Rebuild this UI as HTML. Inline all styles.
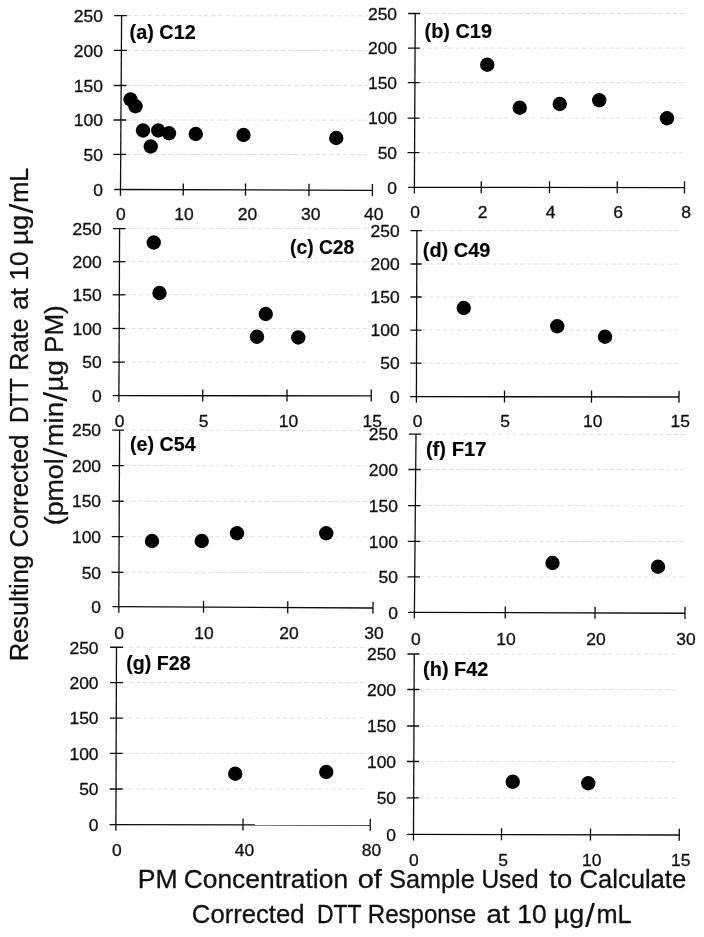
<!DOCTYPE html>
<html><head><meta charset="utf-8"><title>Corrected DTT Response</title>
<style>
html,body{margin:0;padding:0;background:#fff;}
svg{display:block;font-family:"Liberation Sans",sans-serif;}
</style></head><body>
<svg width="704" height="937" viewBox="0 0 704 937">
<rect width="704" height="937" fill="#fff"/>
<g stroke="#dcdcdc" stroke-width="0.9" stroke-dasharray="4.4 2.6" fill="none"><line x1="126.12" y1="154.40" x2="367.50" y2="154.64"/><line x1="126.34" y1="120.00" x2="367.50" y2="120.23"/><line x1="126.56" y1="85.50" x2="367.50" y2="85.73"/><line x1="126.78" y1="50.40" x2="367.50" y2="50.63"/><line x1="127.00" y1="15.60" x2="367.50" y2="15.83"/><line x1="419.97" y1="152.70" x2="684.75" y2="152.76"/><line x1="420.14" y1="118.10" x2="684.75" y2="118.16"/><line x1="420.31" y1="82.60" x2="684.75" y2="82.66"/><line x1="420.48" y1="48.10" x2="684.75" y2="48.16"/><line x1="420.65" y1="13.50" x2="684.75" y2="13.56"/><line x1="124.44" y1="362.10" x2="370.00" y2="362.13"/><line x1="124.58" y1="328.50" x2="370.00" y2="328.53"/><line x1="124.72" y1="294.80" x2="370.00" y2="294.83"/><line x1="124.86" y1="261.70" x2="370.00" y2="261.73"/><line x1="125.00" y1="228.60" x2="370.00" y2="228.63"/><line x1="421.90" y1="363.20" x2="679.00" y2="363.32"/><line x1="422.00" y1="330.10" x2="679.00" y2="330.22"/><line x1="422.10" y1="297.00" x2="679.00" y2="297.12"/><line x1="422.20" y1="264.00" x2="679.00" y2="264.12"/><line x1="422.30" y1="230.60" x2="679.00" y2="230.72"/><line x1="124.36" y1="572.30" x2="371.00" y2="572.72"/><line x1="124.52" y1="536.60" x2="371.00" y2="537.02"/><line x1="124.68" y1="501.20" x2="371.00" y2="501.62"/><line x1="124.84" y1="465.60" x2="371.00" y2="466.02"/><line x1="125.00" y1="430.10" x2="371.00" y2="430.52"/><line x1="420.12" y1="576.80" x2="685.00" y2="577.05"/><line x1="420.44" y1="541.30" x2="685.00" y2="541.55"/><line x1="420.76" y1="505.60" x2="685.00" y2="505.85"/><line x1="421.08" y1="469.50" x2="685.00" y2="469.75"/><line x1="421.40" y1="434.10" x2="685.00" y2="434.35"/><line x1="121.42" y1="789.00" x2="367.00" y2="789.12"/><line x1="121.54" y1="753.30" x2="367.00" y2="753.42"/><line x1="121.66" y1="718.10" x2="367.00" y2="718.22"/><line x1="121.78" y1="682.60" x2="367.00" y2="682.72"/><line x1="121.90" y1="647.25" x2="367.00" y2="647.37"/><line x1="419.05" y1="797.90" x2="679.00" y2="798.11"/><line x1="419.20" y1="761.50" x2="679.00" y2="761.71"/><line x1="419.35" y1="726.00" x2="679.00" y2="726.21"/><line x1="419.50" y1="689.50" x2="679.00" y2="689.71"/><line x1="419.65" y1="654.00" x2="679.00" y2="654.21"/></g>
<g stroke="#0d0d0d" stroke-width="1.3" fill="none"><line x1="121.60" y1="15.60" x2="120.46" y2="195.70"/><line x1="114.20" y1="189.48" x2="372.40" y2="190.30"/><line x1="113.32" y1="154.38" x2="126.02" y2="154.42"/><line x1="113.54" y1="119.98" x2="126.24" y2="120.02"/><line x1="113.76" y1="85.48" x2="126.46" y2="85.52"/><line x1="113.98" y1="50.38" x2="126.68" y2="50.42"/><line x1="114.20" y1="15.58" x2="126.90" y2="15.62"/><line x1="183.28" y1="183.40" x2="183.22" y2="195.50"/><line x1="245.53" y1="183.60" x2="245.47" y2="195.70"/><line x1="309.03" y1="183.80" x2="308.97" y2="195.90"/><line x1="372.43" y1="184.00" x2="372.37" y2="196.10"/><line x1="415.25" y1="13.50" x2="414.37" y2="193.60"/><line x1="408.10" y1="187.40" x2="684.50" y2="187.60"/><line x1="407.47" y1="152.69" x2="419.37" y2="152.70"/><line x1="407.64" y1="118.09" x2="419.54" y2="118.10"/><line x1="407.81" y1="82.59" x2="419.71" y2="82.60"/><line x1="407.98" y1="48.09" x2="419.88" y2="48.10"/><line x1="408.15" y1="13.49" x2="420.05" y2="13.50"/><line x1="481.28" y1="181.15" x2="481.22" y2="193.25"/><line x1="549.53" y1="181.20" x2="549.47" y2="193.30"/><line x1="617.28" y1="181.25" x2="617.22" y2="193.35"/><line x1="684.53" y1="181.30" x2="684.47" y2="193.40"/><line x1="119.60" y1="228.60" x2="118.87" y2="401.90"/><line x1="112.60" y1="395.70" x2="371.25" y2="395.80"/><line x1="112.44" y1="362.10" x2="124.94" y2="362.10"/><line x1="112.58" y1="328.50" x2="125.08" y2="328.50"/><line x1="112.72" y1="294.80" x2="125.22" y2="294.80"/><line x1="112.86" y1="261.70" x2="125.36" y2="261.70"/><line x1="113.00" y1="228.60" x2="125.50" y2="228.60"/><line x1="202.78" y1="389.43" x2="202.72" y2="401.53"/><line x1="287.03" y1="389.47" x2="286.97" y2="401.57"/><line x1="371.28" y1="389.50" x2="371.22" y2="401.60"/><line x1="416.90" y1="230.60" x2="416.38" y2="402.80"/><line x1="410.10" y1="396.59" x2="679.00" y2="397.00"/><line x1="410.20" y1="363.19" x2="421.50" y2="363.21"/><line x1="410.30" y1="330.09" x2="421.60" y2="330.11"/><line x1="410.40" y1="296.99" x2="421.70" y2="297.01"/><line x1="410.50" y1="263.99" x2="421.80" y2="264.01"/><line x1="410.60" y1="230.59" x2="421.90" y2="230.61"/><line x1="504.53" y1="390.43" x2="504.47" y2="402.53"/><line x1="591.53" y1="390.57" x2="591.47" y2="402.67"/><line x1="679.03" y1="390.70" x2="678.97" y2="402.80"/><line x1="119.60" y1="430.10" x2="118.77" y2="612.80"/><line x1="112.50" y1="606.57" x2="373.00" y2="608.00"/><line x1="111.56" y1="572.26" x2="123.36" y2="572.33"/><line x1="111.72" y1="536.56" x2="123.52" y2="536.63"/><line x1="111.88" y1="501.16" x2="123.68" y2="501.23"/><line x1="112.04" y1="465.56" x2="123.84" y2="465.63"/><line x1="112.20" y1="430.06" x2="124.00" y2="430.13"/><line x1="203.53" y1="600.77" x2="203.47" y2="612.87"/><line x1="287.78" y1="601.23" x2="287.72" y2="613.33"/><line x1="373.03" y1="601.70" x2="372.97" y2="613.80"/><line x1="416.00" y1="434.10" x2="414.34" y2="618.60"/><line x1="408.10" y1="612.38" x2="685.00" y2="613.25"/><line x1="407.52" y1="576.78" x2="419.92" y2="576.82"/><line x1="407.84" y1="541.28" x2="420.24" y2="541.32"/><line x1="408.16" y1="505.58" x2="420.56" y2="505.62"/><line x1="408.48" y1="469.48" x2="420.88" y2="469.52"/><line x1="408.80" y1="434.08" x2="421.20" y2="434.12"/><line x1="505.28" y1="606.39" x2="505.22" y2="618.49"/><line x1="595.03" y1="606.67" x2="594.97" y2="618.77"/><line x1="685.03" y1="606.95" x2="684.97" y2="619.05"/><line x1="116.50" y1="647.25" x2="115.88" y2="830.80"/><line x1="109.60" y1="824.59" x2="370.25" y2="825.00"/><line x1="109.72" y1="788.99" x2="122.62" y2="789.01"/><line x1="109.84" y1="753.29" x2="122.74" y2="753.31"/><line x1="109.96" y1="718.09" x2="122.86" y2="718.11"/><line x1="110.08" y1="682.59" x2="122.98" y2="682.61"/><line x1="110.20" y1="647.24" x2="123.10" y2="647.26"/><line x1="243.03" y1="818.50" x2="242.97" y2="830.60"/><line x1="370.28" y1="818.70" x2="370.22" y2="830.80"/><line x1="414.25" y1="654.00" x2="413.47" y2="840.50"/><line x1="407.20" y1="834.28" x2="679.25" y2="835.00"/><line x1="406.85" y1="797.88" x2="418.85" y2="797.91"/><line x1="407.00" y1="761.48" x2="419.00" y2="761.51"/><line x1="407.15" y1="725.98" x2="419.15" y2="726.01"/><line x1="407.30" y1="689.48" x2="419.30" y2="689.51"/><line x1="407.45" y1="653.98" x2="419.45" y2="654.01"/><line x1="501.53" y1="828.23" x2="501.47" y2="840.33"/><line x1="590.53" y1="828.47" x2="590.47" y2="840.57"/><line x1="679.28" y1="828.70" x2="679.22" y2="840.80"/></g>
<g fill="#000"><circle cx="130.50" cy="99.50" r="7.2"/><circle cx="135.50" cy="106.25" r="7.2"/><circle cx="143.00" cy="130.50" r="7.2"/><circle cx="150.75" cy="146.50" r="7.2"/><circle cx="158.25" cy="130.50" r="7.2"/><circle cx="169.00" cy="133.25" r="7.2"/><circle cx="195.75" cy="134.00" r="7.2"/><circle cx="243.50" cy="135.00" r="7.2"/><circle cx="336.25" cy="138.00" r="7.2"/><circle cx="487.25" cy="64.75" r="7.2"/><circle cx="519.75" cy="107.75" r="7.2"/><circle cx="559.75" cy="104.00" r="7.2"/><circle cx="599.25" cy="100.25" r="7.2"/><circle cx="667.00" cy="118.25" r="7.2"/><circle cx="153.75" cy="242.50" r="7.2"/><circle cx="159.50" cy="293.00" r="7.2"/><circle cx="257.00" cy="336.75" r="7.2"/><circle cx="265.75" cy="314.00" r="7.2"/><circle cx="298.25" cy="337.50" r="7.2"/><circle cx="463.75" cy="308.00" r="7.2"/><circle cx="557.25" cy="326.25" r="7.2"/><circle cx="605.00" cy="336.75" r="7.2"/><circle cx="152.00" cy="541.00" r="7.2"/><circle cx="201.75" cy="541.00" r="7.2"/><circle cx="237.00" cy="533.25" r="7.2"/><circle cx="326.25" cy="533.25" r="7.2"/><circle cx="552.50" cy="563.00" r="7.2"/><circle cx="658.00" cy="566.75" r="7.2"/><circle cx="235.25" cy="773.75" r="7.2"/><circle cx="326.25" cy="772.00" r="7.2"/><circle cx="512.75" cy="781.75" r="7.2"/><circle cx="588.25" cy="783.25" r="7.2"/></g>
<text transform="translate(93.16,195.75) scale(1.0724,1)" font-size="16.3" fill="#111" stroke="#111" stroke-width="0.3">0</text>
<text transform="translate(83.44,160.65) scale(1.0724,1)" font-size="16.3" fill="#111" stroke="#111" stroke-width="0.3">50</text>
<text transform="translate(73.73,126.25) scale(1.0724,1)" font-size="16.3" fill="#111" stroke="#111" stroke-width="0.3">100</text>
<text transform="translate(73.73,91.75) scale(1.0724,1)" font-size="16.3" fill="#111" stroke="#111" stroke-width="0.3">150</text>
<text transform="translate(73.73,56.65) scale(1.0724,1)" font-size="16.3" fill="#111" stroke="#111" stroke-width="0.3">200</text>
<text transform="translate(73.73,21.85) scale(1.0724,1)" font-size="16.3" fill="#111" stroke="#111" stroke-width="0.3">250</text>
<text transform="translate(115.94,220.20) scale(1.0724,1)" font-size="16.3" fill="#111" stroke="#111" stroke-width="0.3">0</text>
<text transform="translate(174.21,220.20) scale(1.0724,1)" font-size="16.3" fill="#111" stroke="#111" stroke-width="0.3">10</text>
<text transform="translate(237.69,220.20) scale(1.0724,1)" font-size="16.3" fill="#111" stroke="#111" stroke-width="0.3">20</text>
<text transform="translate(301.04,220.20) scale(1.0724,1)" font-size="16.3" fill="#111" stroke="#111" stroke-width="0.3">30</text>
<text transform="translate(364.02,220.20) scale(1.0724,1)" font-size="16.3" fill="#111" stroke="#111" stroke-width="0.3">40</text>
<text transform="translate(129.61,39.00) scale(1.0233,1)" font-size="19.4" font-weight="bold" fill="#000" stroke="#000" stroke-width="0.15">(a) C12</text>
<text transform="translate(387.36,193.65) scale(1.0724,1)" font-size="16.3" fill="#111" stroke="#111" stroke-width="0.3">0</text>
<text transform="translate(377.64,158.95) scale(1.0724,1)" font-size="16.3" fill="#111" stroke="#111" stroke-width="0.3">50</text>
<text transform="translate(367.93,124.35) scale(1.0724,1)" font-size="16.3" fill="#111" stroke="#111" stroke-width="0.3">100</text>
<text transform="translate(367.93,88.85) scale(1.0724,1)" font-size="16.3" fill="#111" stroke="#111" stroke-width="0.3">150</text>
<text transform="translate(367.93,54.35) scale(1.0724,1)" font-size="16.3" fill="#111" stroke="#111" stroke-width="0.3">200</text>
<text transform="translate(367.93,19.75) scale(1.0724,1)" font-size="16.3" fill="#111" stroke="#111" stroke-width="0.3">250</text>
<text transform="translate(410.24,218.40) scale(1.0724,1)" font-size="16.3" fill="#111" stroke="#111" stroke-width="0.3">0</text>
<text transform="translate(477.64,218.40) scale(1.0724,1)" font-size="16.3" fill="#111" stroke="#111" stroke-width="0.3">2</text>
<text transform="translate(545.69,218.40) scale(1.0724,1)" font-size="16.3" fill="#111" stroke="#111" stroke-width="0.3">4</text>
<text transform="translate(613.33,218.40) scale(1.0724,1)" font-size="16.3" fill="#111" stroke="#111" stroke-width="0.3">6</text>
<text transform="translate(681.14,218.40) scale(1.0724,1)" font-size="16.3" fill="#111" stroke="#111" stroke-width="0.3">8</text>
<text transform="translate(424.61,37.75) scale(1.0248,1)" font-size="19.4" font-weight="bold" fill="#000" stroke="#000" stroke-width="0.15">(b) C19</text>
<text transform="translate(91.96,401.95) scale(1.0724,1)" font-size="16.3" fill="#111" stroke="#111" stroke-width="0.3">0</text>
<text transform="translate(82.24,368.35) scale(1.0724,1)" font-size="16.3" fill="#111" stroke="#111" stroke-width="0.3">50</text>
<text transform="translate(72.53,334.75) scale(1.0724,1)" font-size="16.3" fill="#111" stroke="#111" stroke-width="0.3">100</text>
<text transform="translate(72.53,301.05) scale(1.0724,1)" font-size="16.3" fill="#111" stroke="#111" stroke-width="0.3">150</text>
<text transform="translate(72.53,267.95) scale(1.0724,1)" font-size="16.3" fill="#111" stroke="#111" stroke-width="0.3">200</text>
<text transform="translate(72.53,234.85) scale(1.0724,1)" font-size="16.3" fill="#111" stroke="#111" stroke-width="0.3">250</text>
<text transform="translate(114.84,426.70) scale(1.0724,1)" font-size="16.3" fill="#111" stroke="#111" stroke-width="0.3">0</text>
<text transform="translate(198.66,426.70) scale(1.0724,1)" font-size="16.3" fill="#111" stroke="#111" stroke-width="0.3">5</text>
<text transform="translate(278.71,426.70) scale(1.0724,1)" font-size="16.3" fill="#111" stroke="#111" stroke-width="0.3">10</text>
<text transform="translate(362.48,426.70) scale(1.0724,1)" font-size="16.3" fill="#111" stroke="#111" stroke-width="0.3">15</text>
<text transform="translate(290.04,254.40) scale(0.9943,1)" font-size="19.4" font-weight="bold" fill="#000" stroke="#000" stroke-width="0.15">(c) C28</text>
<text transform="translate(389.96,402.85) scale(1.0724,1)" font-size="16.3" fill="#111" stroke="#111" stroke-width="0.3">0</text>
<text transform="translate(380.24,369.45) scale(1.0724,1)" font-size="16.3" fill="#111" stroke="#111" stroke-width="0.3">50</text>
<text transform="translate(370.53,336.35) scale(1.0724,1)" font-size="16.3" fill="#111" stroke="#111" stroke-width="0.3">100</text>
<text transform="translate(370.53,303.25) scale(1.0724,1)" font-size="16.3" fill="#111" stroke="#111" stroke-width="0.3">150</text>
<text transform="translate(370.53,270.25) scale(1.0724,1)" font-size="16.3" fill="#111" stroke="#111" stroke-width="0.3">200</text>
<text transform="translate(370.53,236.85) scale(1.0724,1)" font-size="16.3" fill="#111" stroke="#111" stroke-width="0.3">250</text>
<text transform="translate(412.64,427.00) scale(1.0724,1)" font-size="16.3" fill="#111" stroke="#111" stroke-width="0.3">0</text>
<text transform="translate(500.16,427.00) scale(1.0724,1)" font-size="16.3" fill="#111" stroke="#111" stroke-width="0.3">5</text>
<text transform="translate(582.96,427.00) scale(1.0724,1)" font-size="16.3" fill="#111" stroke="#111" stroke-width="0.3">10</text>
<text transform="translate(670.48,427.00) scale(1.0724,1)" font-size="16.3" fill="#111" stroke="#111" stroke-width="0.3">15</text>
<text transform="translate(422.75,256.90) scale(1.0303,1)" font-size="19.4" font-weight="bold" fill="#000" stroke="#000" stroke-width="0.15">(d) C49</text>
<text transform="translate(91.36,612.85) scale(1.0724,1)" font-size="16.3" fill="#111" stroke="#111" stroke-width="0.3">0</text>
<text transform="translate(81.64,578.55) scale(1.0724,1)" font-size="16.3" fill="#111" stroke="#111" stroke-width="0.3">50</text>
<text transform="translate(71.93,542.85) scale(1.0724,1)" font-size="16.3" fill="#111" stroke="#111" stroke-width="0.3">100</text>
<text transform="translate(71.93,507.45) scale(1.0724,1)" font-size="16.3" fill="#111" stroke="#111" stroke-width="0.3">150</text>
<text transform="translate(71.93,471.85) scale(1.0724,1)" font-size="16.3" fill="#111" stroke="#111" stroke-width="0.3">200</text>
<text transform="translate(71.93,436.35) scale(1.0724,1)" font-size="16.3" fill="#111" stroke="#111" stroke-width="0.3">250</text>
<text transform="translate(114.14,638.75) scale(1.0724,1)" font-size="16.3" fill="#111" stroke="#111" stroke-width="0.3">0</text>
<text transform="translate(194.21,638.75) scale(1.0724,1)" font-size="16.3" fill="#111" stroke="#111" stroke-width="0.3">10</text>
<text transform="translate(279.19,638.75) scale(1.0724,1)" font-size="16.3" fill="#111" stroke="#111" stroke-width="0.3">20</text>
<text transform="translate(364.29,638.75) scale(1.0724,1)" font-size="16.3" fill="#111" stroke="#111" stroke-width="0.3">30</text>
<text transform="translate(130.01,450.90) scale(1.0155,1)" font-size="19.4" font-weight="bold" fill="#000" stroke="#000" stroke-width="0.15">(e) C54</text>
<text transform="translate(388.16,618.65) scale(1.0724,1)" font-size="16.3" fill="#111" stroke="#111" stroke-width="0.3">0</text>
<text transform="translate(378.44,583.05) scale(1.0724,1)" font-size="16.3" fill="#111" stroke="#111" stroke-width="0.3">50</text>
<text transform="translate(368.73,547.55) scale(1.0724,1)" font-size="16.3" fill="#111" stroke="#111" stroke-width="0.3">100</text>
<text transform="translate(368.73,511.85) scale(1.0724,1)" font-size="16.3" fill="#111" stroke="#111" stroke-width="0.3">150</text>
<text transform="translate(368.73,475.75) scale(1.0724,1)" font-size="16.3" fill="#111" stroke="#111" stroke-width="0.3">200</text>
<text transform="translate(368.73,440.35) scale(1.0724,1)" font-size="16.3" fill="#111" stroke="#111" stroke-width="0.3">250</text>
<text transform="translate(410.89,644.50) scale(1.0724,1)" font-size="16.3" fill="#111" stroke="#111" stroke-width="0.3">0</text>
<text transform="translate(496.21,644.50) scale(1.0724,1)" font-size="16.3" fill="#111" stroke="#111" stroke-width="0.3">10</text>
<text transform="translate(586.19,644.50) scale(1.0724,1)" font-size="16.3" fill="#111" stroke="#111" stroke-width="0.3">20</text>
<text transform="translate(676.29,644.50) scale(1.0724,1)" font-size="16.3" fill="#111" stroke="#111" stroke-width="0.3">30</text>
<text transform="translate(425.89,455.90) scale(1.0412,1)" font-size="19.4" font-weight="bold" fill="#000" stroke="#000" stroke-width="0.15">(f) F17</text>
<text transform="translate(88.86,830.85) scale(1.0724,1)" font-size="16.3" fill="#111" stroke="#111" stroke-width="0.3">0</text>
<text transform="translate(79.14,795.25) scale(1.0724,1)" font-size="16.3" fill="#111" stroke="#111" stroke-width="0.3">50</text>
<text transform="translate(69.43,759.55) scale(1.0724,1)" font-size="16.3" fill="#111" stroke="#111" stroke-width="0.3">100</text>
<text transform="translate(69.43,724.35) scale(1.0724,1)" font-size="16.3" fill="#111" stroke="#111" stroke-width="0.3">150</text>
<text transform="translate(69.43,688.85) scale(1.0724,1)" font-size="16.3" fill="#111" stroke="#111" stroke-width="0.3">200</text>
<text transform="translate(69.43,653.50) scale(1.0724,1)" font-size="16.3" fill="#111" stroke="#111" stroke-width="0.3">250</text>
<text transform="translate(111.89,855.60) scale(1.0724,1)" font-size="16.3" fill="#111" stroke="#111" stroke-width="0.3">0</text>
<text transform="translate(234.67,855.60) scale(1.0724,1)" font-size="16.3" fill="#111" stroke="#111" stroke-width="0.3">40</text>
<text transform="translate(361.75,855.60) scale(1.0724,1)" font-size="16.3" fill="#111" stroke="#111" stroke-width="0.3">80</text>
<text transform="translate(126.27,670.40) scale(1.0117,1)" font-size="19.4" font-weight="bold" fill="#000" stroke="#000" stroke-width="0.15">(g) F28</text>
<text transform="translate(386.36,840.55) scale(1.0724,1)" font-size="16.3" fill="#111" stroke="#111" stroke-width="0.3">0</text>
<text transform="translate(376.64,804.15) scale(1.0724,1)" font-size="16.3" fill="#111" stroke="#111" stroke-width="0.3">50</text>
<text transform="translate(366.93,767.75) scale(1.0724,1)" font-size="16.3" fill="#111" stroke="#111" stroke-width="0.3">100</text>
<text transform="translate(366.93,732.25) scale(1.0724,1)" font-size="16.3" fill="#111" stroke="#111" stroke-width="0.3">150</text>
<text transform="translate(366.93,695.75) scale(1.0724,1)" font-size="16.3" fill="#111" stroke="#111" stroke-width="0.3">200</text>
<text transform="translate(366.93,660.25) scale(1.0724,1)" font-size="16.3" fill="#111" stroke="#111" stroke-width="0.3">250</text>
<text transform="translate(408.89,865.75) scale(1.0724,1)" font-size="16.3" fill="#111" stroke="#111" stroke-width="0.3">0</text>
<text transform="translate(498.16,865.75) scale(1.0724,1)" font-size="16.3" fill="#111" stroke="#111" stroke-width="0.3">5</text>
<text transform="translate(581.96,865.75) scale(1.0724,1)" font-size="16.3" fill="#111" stroke="#111" stroke-width="0.3">10</text>
<text transform="translate(670.98,865.75) scale(1.0724,1)" font-size="16.3" fill="#111" stroke="#111" stroke-width="0.3">15</text>
<text transform="translate(423.10,675.90) scale(1.0267,1)" font-size="19.4" font-weight="bold" fill="#000" stroke="#000" stroke-width="0.15">(h) F42</text>
<text font-size="25.3" fill="#111" stroke="#111" stroke-width="0.3"><tspan x="137.82" y="887.60" textLength="39.86" lengthAdjust="spacingAndGlyphs">PM</tspan> <tspan x="183.65" y="887.60" textLength="164.47" lengthAdjust="spacingAndGlyphs">Concentration</tspan> <tspan x="357.68" y="887.60" textLength="24.19" lengthAdjust="spacingAndGlyphs">of</tspan> <tspan x="389.24" y="887.60" textLength="85.46" lengthAdjust="spacingAndGlyphs">Sample</tspan> <tspan x="481.41" y="887.60" textLength="57.16" lengthAdjust="spacingAndGlyphs">Used</tspan> <tspan x="549.39" y="887.60" textLength="22.86" lengthAdjust="spacingAndGlyphs">to</tspan> <tspan x="579.50" y="887.60" textLength="106.63" lengthAdjust="spacingAndGlyphs">Calculate</tspan></text>
<text font-size="25.3" fill="#111" stroke="#111" stroke-width="0.3"><tspan x="191.89" y="922.80" textLength="112.64" lengthAdjust="spacingAndGlyphs">Corrected</tspan> <tspan x="316.94" y="922.80" textLength="44.18" lengthAdjust="spacingAndGlyphs">DTT</tspan> <tspan x="367.83" y="922.80" textLength="108.33" lengthAdjust="spacingAndGlyphs">Response</tspan> <tspan x="486.63" y="922.80" textLength="23.16" lengthAdjust="spacingAndGlyphs">at</tspan> <tspan x="517.30" y="922.80" textLength="29.34" lengthAdjust="spacingAndGlyphs">10</tspan> <tspan x="553.77" y="922.80" textLength="30.46" lengthAdjust="spacingAndGlyphs">µg</tspan><tspan x="585.12" y="926.97" textLength="10.00" lengthAdjust="spacingAndGlyphs" font-size="33.33" stroke="none">/</tspan><tspan x="596.43" y="922.80" textLength="35.11" lengthAdjust="spacingAndGlyphs">mL</tspan></text>
<text transform="translate(28.40,0) rotate(-90)" font-size="25.3" fill="#111" stroke="#111" stroke-width="0.3"><tspan x="-661.39" y="0.00" textLength="106.43" lengthAdjust="spacingAndGlyphs">Resulting</tspan> <tspan x="-547.41" y="0.00" textLength="113.05" lengthAdjust="spacingAndGlyphs">Corrected</tspan> <tspan x="-423.08" y="0.00" textLength="44.50" lengthAdjust="spacingAndGlyphs">DTT</tspan> <tspan x="-370.41" y="0.00" textLength="51.69" lengthAdjust="spacingAndGlyphs">Rate</tspan> <tspan x="-310.11" y="0.00" textLength="22.10" lengthAdjust="spacingAndGlyphs">at</tspan> <tspan x="-280.59" y="0.00" textLength="29.12" lengthAdjust="spacingAndGlyphs">10</tspan> <tspan x="-245.01" y="0.00" textLength="30.12" lengthAdjust="spacingAndGlyphs">µg</tspan><tspan x="-213.55" y="4.17" textLength="10.00" lengthAdjust="spacingAndGlyphs" font-size="33.33" stroke="none">/</tspan><tspan x="-202.77" y="0.00" textLength="35.11" lengthAdjust="spacingAndGlyphs">mL</tspan></text>
<text transform="translate(63.20,0) rotate(-90)" font-size="25.3" fill="#111" stroke="#111" stroke-width="0.3"><tspan x="-525.26" y="0.00" textLength="66.97" lengthAdjust="spacingAndGlyphs">(pmol</tspan><tspan x="-457.40" y="4.17" textLength="10.00" lengthAdjust="spacingAndGlyphs" font-size="33.33" stroke="none">/</tspan><tspan x="-446.53" y="0.00" textLength="44.75" lengthAdjust="spacingAndGlyphs">min</tspan><tspan x="-401.65" y="4.17" textLength="10.00" lengthAdjust="spacingAndGlyphs" font-size="33.33" stroke="none">/</tspan><tspan x="-391.58" y="0.00" textLength="31.37" lengthAdjust="spacingAndGlyphs">µg</tspan> <tspan x="-352.93" y="0.00" textLength="47.64" lengthAdjust="spacingAndGlyphs">PM)</tspan></text>
</svg>
</body></html>
